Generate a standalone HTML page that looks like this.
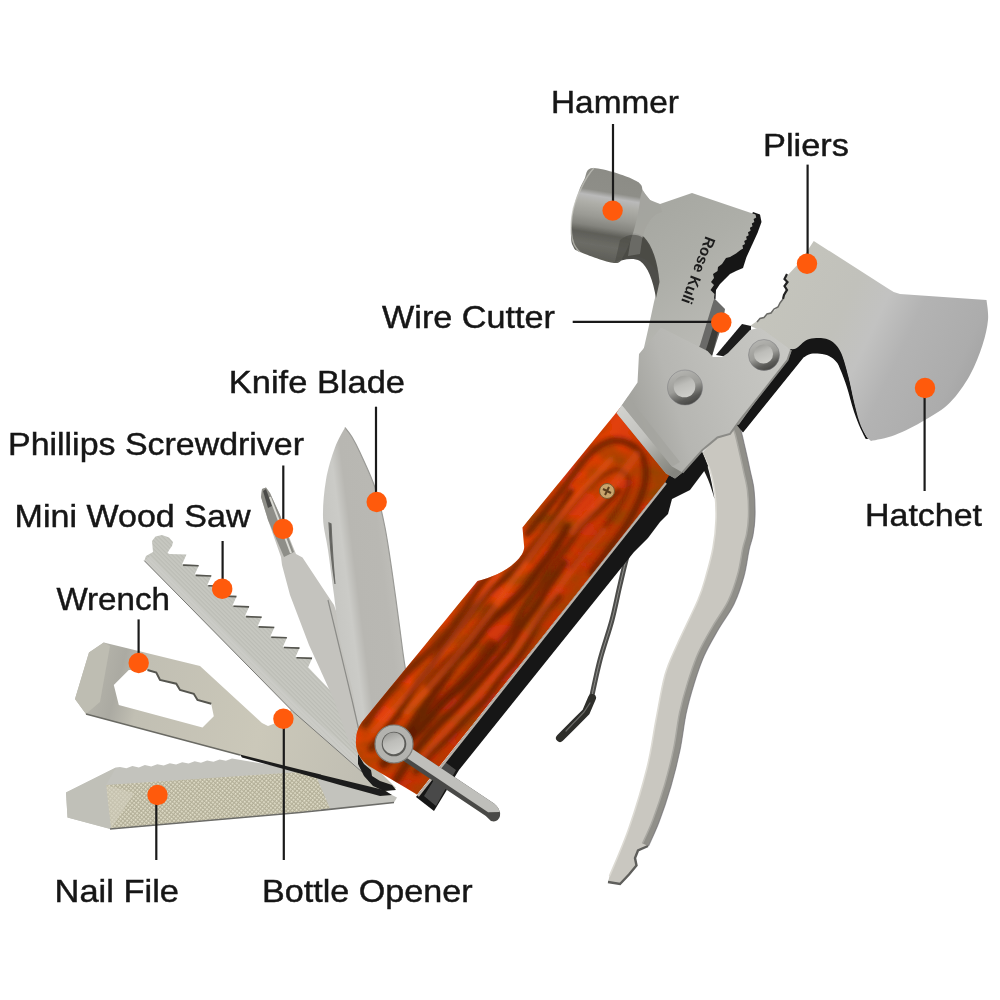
<!DOCTYPE html>
<html><head><meta charset="utf-8"><title>Multi-tool</title>
<style>html,body{margin:0;padding:0;background:#fff}svg{display:block}</style></head>
<body><svg width="1000" height="1000" viewBox="0 0 1000 1000">
<rect width="1000" height="1000" fill="#ffffff"/>

<defs>
<linearGradient id="gHead" gradientUnits="userSpaceOnUse" x1="600" y1="170" x2="585" y2="262">
 <stop offset="0" stop-color="#8c8c86"/><stop offset="0.22" stop-color="#8e8e88"/><stop offset="0.28" stop-color="#bababa"/><stop offset="0.36" stop-color="#aeaea8"/><stop offset="0.5" stop-color="#9a9a94"/><stop offset="0.6" stop-color="#84847e"/><stop offset="0.68" stop-color="#5e5e58"/><stop offset="0.8" stop-color="#6c6c66"/><stop offset="1" stop-color="#595953"/>
</linearGradient>
<linearGradient id="gBody" gradientUnits="userSpaceOnUse" x1="650" y1="200" x2="740" y2="320">
 <stop offset="0" stop-color="#a6a7a1"/><stop offset="0.45" stop-color="#adaea8"/><stop offset="1" stop-color="#babab5"/>
</linearGradient>
<linearGradient id="gHatchet" gradientUnits="userSpaceOnUse" x1="780" y1="280" x2="990" y2="380">
 <stop offset="0" stop-color="#c4c4bc"/><stop offset="0.3" stop-color="#c1c1bb"/><stop offset="0.45" stop-color="#c2c2c1"/><stop offset="0.6" stop-color="#b3b3b3"/><stop offset="0.85" stop-color="#acacac"/><stop offset="1" stop-color="#a0a0a0"/>
</linearGradient>
<linearGradient id="gPlate" gradientUnits="userSpaceOnUse" x1="630" y1="400" x2="790" y2="350">
 <stop offset="0" stop-color="#a3a39e"/><stop offset="0.25" stop-color="#b6b6b2"/><stop offset="0.6" stop-color="#c0c0bc"/><stop offset="1" stop-color="#c8c8c4"/>
</linearGradient>
<linearGradient id="gPlier" gradientUnits="userSpaceOnUse" x1="700" y1="500" x2="760" y2="510">
 <stop offset="0" stop-color="#b2b1ac"/><stop offset="0.15" stop-color="#cdcbc4"/><stop offset="0.7" stop-color="#c8c6bf"/><stop offset="1" stop-color="#94938d"/>
</linearGradient>
<linearGradient id="gKnife" gradientUnits="userSpaceOnUse" x1="320" y1="560" x2="400" y2="550">
 <stop offset="0" stop-color="#c4c4c0"/><stop offset="0.3" stop-color="#cbcbc7"/><stop offset="0.42" stop-color="#b8b7b2"/><stop offset="0.75" stop-color="#b9b8b3"/><stop offset="1" stop-color="#c2c1bc"/>
</linearGradient>
<linearGradient id="gWood" gradientUnits="userSpaceOnUse" x1="470" y1="560" x2="560" y2="632">
 <stop offset="0" stop-color="#cc350e"/><stop offset="0.25" stop-color="#e2400c"/><stop offset="0.55" stop-color="#d4380b"/><stop offset="0.8" stop-color="#c2300a"/><stop offset="1" stop-color="#ca360e"/>
</linearGradient>
<radialGradient id="gRivet" cx="0.45" cy="0.4" r="0.6">
 <stop offset="0" stop-color="#cfcfcb"/><stop offset="0.55" stop-color="#b4b4b0"/><stop offset="0.8" stop-color="#8a8a86"/><stop offset="1" stop-color="#5a5a57"/>
</radialGradient>
<linearGradient id="gWrench" gradientUnits="userSpaceOnUse" x1="80" y1="680" x2="380" y2="760">
 <stop offset="0" stop-color="#b9b8ae"/><stop offset="0.12" stop-color="#abaaa2"/><stop offset="0.2" stop-color="#c1bfb3"/><stop offset="0.6" stop-color="#cbc8b9"/><stop offset="1" stop-color="#bfbdb2"/>
</linearGradient>
<linearGradient id="gBevel" gradientUnits="userSpaceOnUse" x1="618" y1="410" x2="672" y2="474">
 <stop offset="0" stop-color="#d2d2ce"/><stop offset="0.45" stop-color="#c2c2be"/><stop offset="0.8" stop-color="#96968f"/><stop offset="1" stop-color="#85857f"/>
</linearGradient>
<linearGradient id="gRivO" x1="0.3" y1="0" x2="0.7" y2="1"><stop offset="0" stop-color="#b6b6b2"/><stop offset="0.5" stop-color="#9c9c98"/><stop offset="0.8" stop-color="#5a5a57"/><stop offset="1" stop-color="#434341"/></linearGradient>
<linearGradient id="gRivI" x1="0.3" y1="0" x2="0.7" y2="1"><stop offset="0" stop-color="#9c9c98"/><stop offset="0.4" stop-color="#bdbdb9"/><stop offset="1" stop-color="#cfcfcb"/></linearGradient>
<pattern id="pSaw" width="3" height="3" patternUnits="userSpaceOnUse" patternTransform="rotate(45)">
 <rect width="3" height="3" fill="#c7c8c1"/><rect width="3" height="1.2" fill="#bbbcb5"/>
</pattern>
<pattern id="pFile" width="3" height="3" patternUnits="userSpaceOnUse" patternTransform="rotate(40)">
 <rect width="3" height="3" fill="#b3af98"/><rect width="1.7" height="1.7" fill="#e6e3ce"/>
</pattern>
<filter id="gblur" x="-10%" y="-10%" width="120%" height="120%"><feGaussianBlur stdDeviation="2.2"/></filter>
<filter id="soft" x="-5%" y="-5%" width="110%" height="110%"><feGaussianBlur stdDeviation="0.6"/></filter>
<filter id="grain" x="0" y="0" width="100%" height="100%">
 <feTurbulence type="fractalNoise" baseFrequency="0.025 0.035" numOctaves="3" seed="11" result="n"/>
 <feColorMatrix in="n" type="matrix" values="0 0 0 0 0.3  0 0 0 0 0.06  0 0 0 0 0.0  2.2 0 0 0 -0.8" result="dark"/>
 <feComposite in="dark" in2="SourceGraphic" operator="in" result="d2"/>
 <feMerge><feMergeNode in="SourceGraphic"/><feMergeNode in="d2"/></feMerge>
</filter>
</defs>

<g filter="url(#soft)">
<path d="M649.0,516.0 C647.5,518.0 643.3,522.3 640.0,528.0 C636.7,533.7 632.3,540.5 629.0,550.0 C625.7,559.5 622.8,573.3 620.0,585.0 C617.2,596.7 615.3,607.5 612.0,620.0 C608.7,632.5 603.5,646.7 600.0,660.0 C596.5,673.3 592.5,693.3 591.0,700.0" fill="none" stroke="#4c4c4a" stroke-width="5"/>
<path d="M649.0,516.0 C647.5,518.0 643.3,522.3 640.0,528.0 C636.7,533.7 632.3,540.5 629.0,550.0 C625.7,559.5 622.8,573.3 620.0,585.0 C617.2,596.7 615.3,607.5 612.0,620.0 C608.7,632.5 603.5,646.7 600.0,660.0 C596.5,673.3 592.5,693.3 591.0,700.0" fill="none" stroke="#8e8e8a" stroke-width="1"/>
<path d="M592,698 L586,712 L560,738" fill="none" stroke="#2e2e2c" stroke-width="8" stroke-linecap="round" stroke-linejoin="round"/>
<path d="M590,703 L584,712 L566,731" fill="none" stroke="#6a6a66" stroke-width="1.2" stroke-linecap="round"/>
<path d="M737.5,423.5 C738.1,424.8 739.8,427.0 741.0,431.0 C742.2,435.0 743.5,441.0 745.0,447.5 C746.5,454.0 748.5,462.9 750.0,470.0 C751.5,477.1 753.2,482.3 754.0,490.0 C754.8,497.7 755.2,508.5 755.0,516.0 C754.8,523.5 754.0,529.3 753.0,535.0 C752.0,540.7 750.5,543.2 749.0,550.0 C747.5,556.8 746.5,567.0 744.0,576.0 C741.5,585.0 738.3,595.0 734.0,604.0 C729.7,613.0 723.0,621.3 718.0,630.0 C713.0,638.7 708.0,647.0 704.0,656.0 C700.0,665.0 697.0,674.3 694.0,684.0 C691.0,693.7 688.3,703.0 686.0,714.0 C683.7,725.0 682.5,738.0 680.0,750.0 C677.5,762.0 674.5,774.0 671.0,786.0 C667.5,798.0 662.8,812.0 659.0,822.0 C655.2,832.0 650.2,842.0 648.5,846.0 L638,850.5 L635,858 L636.5,865.5 L629,874.5 L620,884 L608,882 L609.5,876.0 C612.8,868.0 622.8,846.0 629.0,828.0 C635.2,810.0 642.5,786.0 647.0,768.0 C651.5,750.0 653.0,735.5 656.0,720.0 C659.0,704.5 661.5,687.5 665.0,675.0 C668.5,662.5 671.5,657.5 677.0,645.0 C682.5,632.5 693.2,611.5 698.0,600.0 C702.8,588.5 703.5,584.7 706.0,576.0 C708.5,567.3 711.3,557.3 713.0,548.0 C714.7,538.7 715.7,529.0 716.0,520.0 C716.3,511.0 716.0,502.3 715.0,494.0 C714.0,485.7 712.2,476.8 710.0,470.0 C707.8,463.2 703.3,455.8 702.0,453.0 L714,440 L728,433 Z" fill="#c9c7c0"/>
<path d="M737.5,423.5 C738.1,424.8 739.8,427.0 741.0,431.0 C742.2,435.0 743.5,441.0 745.0,447.5 C746.5,454.0 748.5,462.9 750.0,470.0 C751.5,477.1 753.2,482.3 754.0,490.0 C754.8,497.7 755.2,508.5 755.0,516.0 C754.8,523.5 754.0,529.3 753.0,535.0 C752.0,540.7 750.5,543.2 749.0,550.0 C747.5,556.8 746.5,567.0 744.0,576.0 C741.5,585.0 738.3,595.0 734.0,604.0 C729.7,613.0 723.0,621.3 718.0,630.0 C713.0,638.7 708.0,647.0 704.0,656.0 C700.0,665.0 697.0,674.3 694.0,684.0 C691.0,693.7 688.3,703.0 686.0,714.0 C683.7,725.0 682.5,738.0 680.0,750.0 C677.5,762.0 674.5,774.0 671.0,786.0 C667.5,798.0 662.8,812.0 659.0,822.0 C655.2,832.0 650.2,842.0 648.5,846.0 L642.5,843.4 C644.3,839.4 649.2,829.6 652.9,819.7 C656.6,809.8 661.3,796.0 664.8,784.2 C668.2,772.3 671.2,760.6 673.6,748.7 C676.1,736.8 677.3,723.8 679.6,712.7 C682.0,701.6 684.7,692.0 687.8,682.1 C690.9,672.2 694.0,662.6 698.1,653.4 C702.2,644.1 707.4,635.4 712.4,626.8 C717.4,618.1 723.9,609.9 728.1,601.2 C732.4,592.4 735.3,583.0 737.7,574.3 C740.2,565.5 741.2,555.3 742.7,548.6 C744.1,541.9 745.6,539.3 746.6,533.9 C747.6,528.4 748.3,523.1 748.5,515.9 C748.7,508.7 748.3,498.1 747.5,490.7 C746.7,483.3 745.1,478.3 743.6,471.3 C742.2,464.4 740.1,455.4 738.7,449.0 C737.2,442.6 736.0,436.7 734.8,432.9 C733.6,429.2 732.1,427.4 731.6,426.2Z" fill="#908f89"/>
<path d="M731.6,426.2 C732.1,427.4 733.6,429.2 734.8,432.9 C736.0,436.7 737.2,442.6 738.7,449.0 C740.1,455.4 742.2,464.4 743.6,471.3 C745.1,478.3 746.7,483.3 747.5,490.7 C748.3,498.1 748.7,508.7 748.5,515.9 C748.3,523.1 747.6,528.4 746.6,533.9 C745.6,539.3 744.1,541.9 742.7,548.6 C741.2,555.3 740.2,565.5 737.7,574.3 C735.3,583.0 732.4,592.4 728.1,601.2 C723.9,609.9 717.4,618.1 712.4,626.8 C707.4,635.4 702.2,644.1 698.1,653.4 C694.0,662.6 690.9,672.2 687.8,682.1 C684.7,692.0 682.0,701.6 679.6,712.7 C677.3,723.8 676.1,736.8 673.6,748.7 C671.2,760.6 668.2,772.3 664.8,784.2 C661.3,796.0 656.6,809.8 652.9,819.7 C649.2,829.6 644.3,839.4 642.5,843.4" fill="none" stroke="#a9a8a2" stroke-width="1.5"/>
<path d="M737.5,423.5 C738.1,424.8 739.8,427.0 741.0,431.0 C742.2,435.0 743.5,441.0 745.0,447.5 C746.5,454.0 748.5,462.9 750.0,470.0 C751.5,477.1 753.2,482.3 754.0,490.0 C754.8,497.7 755.2,508.5 755.0,516.0 C754.8,523.5 754.0,529.3 753.0,535.0 C752.0,540.7 750.5,543.2 749.0,550.0 C747.5,556.8 746.5,567.0 744.0,576.0 C741.5,585.0 738.3,595.0 734.0,604.0 C729.7,613.0 723.0,621.3 718.0,630.0 C713.0,638.7 708.0,647.0 704.0,656.0 C700.0,665.0 697.0,674.3 694.0,684.0 C691.0,693.7 688.3,703.0 686.0,714.0 C683.7,725.0 682.5,738.0 680.0,750.0 C677.5,762.0 674.5,774.0 671.0,786.0 C667.5,798.0 662.8,812.0 659.0,822.0 C655.2,832.0 650.2,842.0 648.5,846.0" fill="none" stroke="#77767a" stroke-width="1.2" opacity="0.7"/>
<path d="M609.5,876.0 C612.8,868.0 622.8,846.0 629.0,828.0 C635.2,810.0 642.5,786.0 647.0,768.0 C651.5,750.0 653.0,735.5 656.0,720.0 C659.0,704.5 661.5,687.5 665.0,675.0 C668.5,662.5 671.5,657.5 677.0,645.0 C682.5,632.5 693.2,611.5 698.0,600.0 C702.8,588.5 703.5,584.7 706.0,576.0 C708.5,567.3 711.3,557.3 713.0,548.0 C714.7,538.7 715.7,529.0 716.0,520.0 C716.3,511.0 716.0,502.3 715.0,494.0 C714.0,485.7 712.2,476.8 710.0,470.0 C707.8,463.2 703.3,455.8 702.0,453.0" fill="none" stroke="#dddbd4" stroke-width="1.6"/>
<path d="M696,455 L702,452 C707,462 711,476 714.5,499 C711,486 706,472 699,463 Z" fill="#1c1c1a"/>
<path d="M648,846 L638,850.5 L635,858 L636.5,865.5 L629,874.5 L620,884 L608,882" fill="none" stroke="#5e5e5b" stroke-width="2.4"/>
<path d="M753,212 L760,214.5 L761.5,222 L757.5,233 L752,245 L746.5,257 L743,268 L736,271 L730,274 L725,279 L720,284 L716,290 L715.5,299 L705,300 L712,270 L740,240 Z" fill="#171717"/>
<path d="M714,298 L725,309 L723,322 L712,356 L694,356 L706,318 Z" fill="#6b6b68"/>
<path d="M722,316 L712,356 L704,356 L716,318 Z" fill="#3a3a38"/>
<path d="M638.0,182.0 L642.0,190.0 L650.0,200.0 L660.0,204.0 L692.0,193.0 L755.5,214.5 L756.2,217.4 L753.6,218.9 L754.3,221.9 L751.8,223.4 L752.5,226.3 L749.9,227.8 L750.6,230.7 L748.0,232.2 L748.7,235.2 L746.1,236.7 L746.8,239.6 L744.2,241.1 L745.0,244.0 L742.4,245.6 L743.1,248.5 L740.5,250.0 L736.0,253.5 L730.0,257.0 L726.0,258.0 L724.0,261.0 L722.0,264.0 L718.0,267.0 L717.5,271.0 L713.0,274.0 L714.0,278.0 L711.0,282.0 L714.0,285.0 L710.5,290.0 L714.5,294.0 L714.0,299.0 L700.0,345.0 L690.0,365.0 L640.0,365.0 L648.0,330.0 L654.0,302.0 L659.0,282.0 L657.0,268.0 L650.0,258.0 L644.0,254.0 L630.0,255.0 L620.0,258.0 L614.0,263.0Z" fill="url(#gBody)"/>
<path d="M618,238 C626,232 636,231 644,237 C652,245 658,262 659.5,282 L656,298 C653,280 648,267 640,261 C632,257 622,260 614,263 Z" fill="#4e4e48"/>
<path d="M638,182 C641,186 643,192 650,200 C654,203 657,204 660,204 L662,212 C652,214 645,225 642,240 L640,254 L628,256 C632,235 634,210 632,190Z" fill="#a4a49e" opacity="0.9"/>
<path d="M594.0,168.0 C603.0,168.3 630.3,176.7 638.0,182.0 C645.7,187.3 640.7,192.0 640.0,200.0 C639.3,208.0 636.7,220.8 634.0,230.0 C631.3,239.2 627.3,249.5 624.0,255.0 C620.7,260.5 621.3,263.5 614.0,263.0 C606.7,262.5 586.8,254.8 580.0,252.0 C573.2,249.2 574.5,248.7 573.0,246.0 C571.5,243.3 571.2,241.0 571.0,236.0 C570.8,231.0 571.0,222.7 572.0,216.0 C573.0,209.3 575.0,202.0 577.0,196.0 C579.0,190.0 581.2,184.7 584.0,180.0 C586.8,175.3 585.0,167.7 594.0,168.0Z" fill="url(#gHead)"/>
<path d="M594,168 C586,176 574,200 572,216 C570,232 572,246 580,252" fill="none" stroke="#c4c4be" stroke-width="1.5" opacity="0.7"/>
<path d="M620,240 C628,234 636,233 643,238 C650,245 655,258 657,272 C652,264 646,259 640,257 C632,255 622,259 615,262 Z" fill="#4a4a44" opacity="0.6"/>
<text transform="translate(705.8,235.5) rotate(110.6)" font-family="Liberation Sans, sans-serif" font-weight="700" font-size="15.5" textLength="70.5" lengthAdjust="spacingAndGlyphs" fill="#1b1b1b">Rose Kuli</text>
<path d="M789.0,347.0 C790.2,346.9 793.3,347.8 796.0,346.5 C798.7,345.2 802.0,340.7 805.0,339.0 C808.0,337.3 810.5,336.7 814.0,336.3 C817.5,335.9 822.5,335.8 826.0,336.8 C829.5,337.7 832.4,339.4 835.0,342.0 C837.6,344.6 839.5,347.0 841.8,352.5 C844.0,358.0 846.4,366.8 848.5,375.0 C850.6,383.2 852.5,394.0 854.5,402.0 C856.5,410.0 858.5,417.2 860.5,423.0 C862.5,428.8 864.8,433.9 866.5,436.5 C868.2,439.1 870.2,438.2 871.0,438.5 L865.8,439.0 C864.6,436.7 861.1,430.1 859.0,425.0 C856.9,419.9 855.0,414.8 853.0,408.5 C851.0,402.2 849.0,393.8 847.0,387.5 C845.0,381.2 842.8,375.2 841.0,371.0 C839.2,366.8 838.5,364.5 836.5,362.0 C834.5,359.5 831.8,357.4 829.0,356.0 C826.2,354.6 823.0,354.1 820.0,353.8 C817.0,353.4 813.8,353.1 811.0,353.8 C808.2,354.4 804.8,356.9 803.5,357.5 L743,432.5 L736,424 Z" fill="#131313"/>
<path d="M790.5,352 L738,424.5" stroke="#9a9a96" stroke-width="1.6" fill="none"/>
<path d="M813.75,241 L888,288.5 Q893,292.5 900,294 L986.5,300 L986.5,300.0 C986.8,303.3 988.7,312.5 988.0,320.0 C987.3,327.5 985.5,335.8 982.5,345.0 C979.5,354.2 975.4,365.4 970.0,375.0 C964.6,384.6 957.5,395.0 950.0,402.5 C942.5,410.0 934.2,414.6 925.0,420.0 C915.8,425.4 904.0,431.5 895.0,435.0 C886.0,438.5 875.0,440.0 871.0,441.0 L867.5,438 L867.5,438.0 C866.3,435.8 862.7,430.7 860.5,425.0 C858.3,419.3 856.5,412.0 854.5,404.0 C852.5,396.0 850.6,385.2 848.5,377.0 C846.4,368.8 844.0,360.0 841.8,354.5 C839.5,349.0 837.6,346.6 835.0,344.0 C832.4,341.4 829.5,339.7 826.0,338.8 C822.5,337.8 817.5,337.9 814.0,338.3 C810.5,338.7 808.0,339.3 805.0,341.0 C802.0,342.7 798.7,347.2 796.0,348.5 C793.3,349.8 790.2,348.9 789.0,349.0 L770,345 L760,330 L750,326 L755,322.5 L765,316 L775,310 L782.5,300 L785,290 L786,277 L800,262 Z" fill="url(#gHatchet)"/>
<path d="M787,274 L784.5,279 L787.5,282 L784.5,286 L787,290 L784,295 L783,299" fill="none" stroke="#222" stroke-width="2.2"/>
<path d="M783,299 L780,303 L778,307 L774,309 L771,313 L767,314 L764,317.5 L760,318.5 L757,322" fill="none" stroke="#6a6a66" stroke-width="1.5"/>
<path d="M716,355 L742,324 L751,326 L751,331 L728,357 Z" fill="#1a1a1a"/>
<path d="M664,474 L702,452 L708,466 L690,490 L672,499 L668,514 L660,522 L648,538 L634,552 L459,770 L434,811 L416,797 L662,486 Z" fill="#161616"/>
<path d="M436,806 L456,770 L445,762 L424,796Z" fill="#4a4a48"/>
<path d="M66.0,792.5 L116.0,767.5 L120.0,767.0 L126.4,768.3 L132.4,766.1 L138.8,767.4 L144.9,765.1 L151.2,766.4 L157.3,764.2 L163.7,765.5 L169.8,763.2 L176.1,764.5 L182.2,762.3 L188.6,763.6 L194.7,761.3 L201.0,762.7 L207.1,760.4 L213.5,761.7 L219.6,759.4 L225.9,760.8 L232.0,758.5 L300.0,770.0 L380.0,789.0 L397.0,797.5 L394.0,802.5 L300.0,812.5 L110.0,829.0 L67.5,817.5Z" fill="#c3c3bd"/>
<path d="M106,785 L300,772 L316,776 L330,808.5 L300,812.5 L111,829 Z" fill="url(#pFile)"/>
<path d="M106,785 L134,793 L111,829 Z" fill="#d2cfbe" opacity="0.6"/>
<path d="M66,792.5 L116,767.5 L106,785 L111,829 L67.5,817.5Z" fill="#c0c0b8"/>
<path d="M110,829 L300,812.5 L394,802.5" fill="none" stroke="#6c6c68" stroke-width="1.5"/>
<path d="M103.8,642.5 L200.0,666.0 L262.0,723.0 L268.0,726.0 L276.0,723.0 L292.0,709.0 L372.0,764.0 L396.0,788.0 L384.0,792.5 L300.0,771.0 L86.0,714.0 L75.0,699.0 L89.0,652.5Z M128.8,670.0 L113.8,685.0 L118.8,705.0 L202.5,727.5 L213.8,716.2 L211.2,703.8 L197.5,700.0 L193.8,693.8 L180.0,690.0 L176.2,683.8 L160.0,680.0 L156.2,672.5 L147.5,670.0Z" fill-rule="evenodd" fill="url(#gWrench)"/>
<path d="M103.75,642.5 L110,646 L100,702 L86,714 L75,699 L89,652.5Z" fill="#bebdb2"/>
<path d="M86,714 L240,755" fill="none" stroke="#6a6a64" stroke-width="1.6"/>
<path d="M240,754.5 L300,769.5 L384,790 L392,795 L380,796 L340,785 L300,773.5 L242,757.5Z" fill="#1e1e1c"/>
<path d="M147.5,670 L156.25,672.5 L160,680 L176.25,683.75 L180,690 L193.75,693.75 L197.5,700 L211.25,703.75 " fill="none" stroke="#55554f" stroke-width="2"/>
<path d="M152.0,541.0 L155.5,536.5 L162.0,535.0 L169.0,537.5 L173.0,542.0 L172.0,546.0 L169.5,549.5 L167.5,553.0 L169.5,554.0 L186.5,554.6 L182.1,564.3 L199.1,564.9 L194.7,574.6 L211.7,575.2 L207.3,584.9 L224.3,585.5 L219.9,595.2 L236.9,595.8 L232.5,605.5 L249.5,606.1 L245.1,615.8 L262.1,616.4 L257.7,626.1 L274.7,626.7 L270.3,636.4 L287.3,637.0 L282.9,646.7 L299.9,647.3 L295.5,657.0 L312.5,657.6 L308.1,667.3 L330.0,690.0 L372.0,712.0 L365.0,775.0 L292.8,711.4 L144.3,560.7 L146.0,556.0 L153.0,552.0Z" fill="url(#pSaw)"/>
<path d="M144.3,560.7 L292.8,711.4 L365,775 L368,766 L296,703 L150,556Z" fill="#d0d0cc" opacity="0.55"/>
<path d="M183.1,565.1 L198.6,565.7" stroke="#55554f" stroke-width="1.6" fill="none"/>
<path d="M195.7,575.4 L211.2,576.0" stroke="#55554f" stroke-width="1.6" fill="none"/>
<path d="M208.3,585.7 L223.8,586.3" stroke="#55554f" stroke-width="1.6" fill="none"/>
<path d="M220.9,596.0 L236.4,596.6" stroke="#55554f" stroke-width="1.6" fill="none"/>
<path d="M233.5,606.3 L249.0,606.9" stroke="#55554f" stroke-width="1.6" fill="none"/>
<path d="M246.1,616.6 L261.6,617.2" stroke="#55554f" stroke-width="1.6" fill="none"/>
<path d="M258.7,626.9 L274.2,627.5" stroke="#55554f" stroke-width="1.6" fill="none"/>
<path d="M271.3,637.2 L286.8,637.8" stroke="#55554f" stroke-width="1.6" fill="none"/>
<path d="M283.9,647.5 L299.4,648.1" stroke="#55554f" stroke-width="1.6" fill="none"/>
<path d="M296.5,657.8 L312.0,658.4" stroke="#55554f" stroke-width="1.6" fill="none"/>
<path d="M262,489 L266,487.5 L270,493 L280,515 L296,554 L302.5,557.5 L334,605 L346,640 L366,700 L350,745 L334,700 L309,645 L290,595 L282,565 L281,557 L268,520 L261,497 Z" fill="#c4c3be"/>
<path d="M262,489 L266,487.5 L270,493 L280,515 L294,552 L284,557 L268,520 L261,497 Z" fill="#8e8e88"/>
<path d="M263,491 L268,508 L272,506 L266,489Z" fill="#4c4c48"/>
<path d="M270,497 L291,553" stroke="#dcdcd6" stroke-width="2" fill="none"/>
<path d="M345.0,427.5 C346.2,429.1 349.5,432.8 352.0,437.0 C354.5,441.2 356.2,444.1 360.0,452.5 C363.8,460.9 370.8,475.0 375.0,487.5 C379.2,500.0 382.1,512.9 385.0,527.5 C387.9,542.1 390.0,557.9 392.5,575.0 C395.0,592.1 398.1,615.8 400.0,630.0 C401.9,644.2 402.0,646.7 404.0,660.0 C406.0,673.3 410.7,701.7 412.0,710.0 L400,760 L370.0,760.0 C368.0,754.0 361.0,736.0 358.0,724.0 C355.0,712.0 355.0,702.0 352.0,688.0 C349.0,674.0 343.0,655.5 340.0,640.0 C337.0,624.5 336.0,610.0 334.0,595.0 C332.0,580.0 329.8,562.9 328.0,550.0 C326.2,537.1 323.3,529.2 323.0,517.5 C322.7,505.8 324.0,491.7 326.0,480.0 C328.0,468.3 331.8,456.2 335.0,447.5 C338.2,438.8 343.3,430.8 345.0,427.5Z" fill="url(#gKnife)"/>
<path d="M329,523 C330,545 332,565 335,584 C333,565 332,545 331,524Z" fill="#5c5c58" stroke="#6a6a66" stroke-width="1.2"/>
<path d="M345.0,427.5 C346.2,429.1 349.5,432.8 352.0,437.0 C354.5,441.2 356.2,444.1 360.0,452.5 C363.8,460.9 370.8,475.0 375.0,487.5 C379.2,500.0 382.1,512.9 385.0,527.5 C387.9,542.1 390.0,557.9 392.5,575.0 C395.0,592.1 398.1,615.8 400.0,630.0 C401.9,644.2 402.0,646.7 404.0,660.0 C406.0,673.3 410.7,701.7 412.0,710.0" fill="none" stroke="#9a9a96" stroke-width="1.2"/>
<path d="M144.3,560.7 L292.8,711.4 L362,772" fill="none" stroke="#7a7a76" stroke-width="1"/>
<path d="M328,600 L340,650 L352,700 L360,735" fill="none" stroke="#8c8c88" stroke-width="1.2"/>
<path d="M358,754 L364,764 L371,770 L372,776 L380,781 L392,785 L396,790 L384,791 L373,786 L364,776 L358,764Z" fill="#1c1c1a"/>
<clipPath id="cWood"><path d="M620,408 L672,470 L665,482.5 L417,794.5 L369,766 C360,760 355,750 356,740 C356,733 358,728 362,722 L477.5,581 C490,578 505,572 515,562.5 C522,556 525,550 524,545 L522.5,527.5 Z"/></clipPath>
<path d="M620,408 L672,470 L665,482.5 L417,794.5 L369,766 C360,760 355,750 356,740 C356,733 358,728 362,722 L477.5,581 C490,578 505,572 515,562.5 C522,556 525,550 524,545 L522.5,527.5 Z" fill="url(#gWood)" filter="url(#grain)"/>
<g clip-path="url(#cWood)"><g filter="url(#gblur)" fill="none" stroke-linecap="round"><path d="M527.4,533.7 C532.6,527.2 548.6,507.3 558.5,494.5 C568.4,481.8 578.7,465.9 586.9,457.1 C595.2,448.3 600.9,444.1 608.0,441.9 C615.1,439.7 623.6,440.9 629.5,443.7 C635.4,446.5 640.9,451.4 643.3,458.5 C645.8,465.5 647.0,475.3 644.4,486.1 C641.7,497.0 636.1,509.4 627.3,523.7 C618.5,537.9 597.5,563.8 591.6,571.9" stroke="#5e1c06" stroke-width="6.5" opacity="0.75"/><path d="M529.1,560.5 C535.3,552.7 555.7,526.4 566.4,513.6 C577.0,500.7 585.2,490.6 592.8,483.5 C600.4,476.3 606.7,472.4 612.0,470.6 C617.2,468.8 621.5,470.1 624.3,472.8 C627.1,475.4 630.9,479.0 628.7,486.5 C626.6,494.0 621.3,503.9 611.7,517.6 C602.1,531.3 578.0,560.0 571.2,568.5" stroke="#6a2208" stroke-width="5" opacity="0.6"/><path d="M571.0,491.7 C568.8,495.2 562.1,505.9 557.6,513.0 C553.0,520.0 548.7,527.2 543.8,533.9 C538.8,540.6 533.3,546.9 527.9,553.3 C522.6,559.7 517.7,566.4 511.8,572.3 C505.8,578.3 498.2,582.9 492.2,588.7 C486.2,594.6 481.1,601.2 475.8,607.6 C470.4,614.0 465.5,620.7 460.2,627.1 C454.9,633.6 449.0,639.5 444.0,646.2 C439.0,652.9 435.2,660.5 430.4,667.3 C425.5,674.1 419.7,680.1 414.9,687.0 C410.2,693.9 406.7,701.8 402.1,708.7 C397.4,715.6 392.0,722.0 386.9,728.6 C381.8,735.2 374.2,745.1 371.7,748.4" stroke="#561805" stroke-width="7" opacity="0.70"/><path d="M567.8,527.5 C565.6,531.0 559.1,541.8 554.4,548.7 C549.6,555.6 544.4,562.1 539.5,568.8 C534.5,575.5 530.1,582.6 524.7,589.0 C519.2,595.3 513.1,601.1 507.0,606.9 C500.9,612.7 493.8,617.6 488.0,623.7 C482.3,629.8 478.0,637.1 472.6,643.4 C467.1,649.7 460.3,655.0 455.2,661.5 C450.1,668.1 446.5,675.9 441.8,682.8 C437.1,689.7 431.8,696.1 427.0,703.0 C422.2,709.8 417.5,716.7 413.1,723.9 C408.7,731.0 405.7,739.3 400.8,746.0 C395.9,752.7 386.5,761.2 383.6,764.3" stroke="#561805" stroke-width="9" opacity="0.75"/><path d="M618.2,490.9 C615.3,493.9 606.4,502.8 600.4,508.7 C594.4,514.5 587.4,519.6 582.0,525.9 C576.5,532.2 572.6,539.8 567.6,546.5 C562.6,553.1 556.8,559.2 552.0,566.0 C547.1,572.8 543.2,580.3 538.6,587.2 C533.9,594.2 528.4,600.5 523.9,607.5 C519.3,614.5 516.1,622.6 511.4,629.5 C506.6,636.4 500.7,642.3 495.3,648.7 C490.0,655.1 484.9,661.7 479.3,667.9 C473.6,674.0 467.7,679.9 461.6,685.8 C455.5,691.6 448.6,696.7 442.8,702.7 C436.9,708.7 431.7,715.2 426.3,721.6 C420.9,727.9 413.1,737.7 410.5,740.9" stroke="#561805" stroke-width="6" opacity="0.65"/><path d="M564.0,562.7 C561.6,566.2 554.4,576.4 549.8,583.4 C545.3,590.5 541.5,598.1 536.8,605.0 C532.1,611.9 526.4,618.1 521.8,625.0 C517.2,632.0 514.0,640.1 509.2,646.9 C504.4,653.8 498.5,659.7 493.0,666.0 C487.5,672.3 481.8,678.4 476.3,684.6 C470.8,690.9 465.8,697.6 460.0,703.6 C454.3,709.7 447.6,715.1 441.7,721.1 C435.9,727.0 430.0,733.1 424.7,739.4 C419.4,745.8 414.5,752.6 409.7,759.5 C404.9,766.3 398.3,777.0 396.0,780.5" stroke="#561805" stroke-width="8" opacity="0.70"/><path d="M558.6,596.8 C555.9,599.9 546.8,608.7 542.1,615.6 C537.4,622.5 534.5,630.8 530.3,638.1 C526.0,645.4 521.8,652.7 516.8,659.3 C511.7,666.0 505.3,671.5 500.2,678.1 C495.1,684.7 491.4,692.4 486.1,698.8 C480.7,705.2 473.9,710.4 468.0,716.4 C462.2,722.4 456.9,728.8 450.9,734.8 C445.0,740.7 438.2,745.9 432.4,751.9 C426.6,758.0 419.0,767.9 416.3,771.1" stroke="#561805" stroke-width="7" opacity="0.65"/><path d="M492.9,570.1 C490.3,573.4 482.2,582.9 477.4,589.8 C472.6,596.6 469.0,604.3 464.2,611.2 C459.4,618.0 454.2,624.5 448.8,630.8 C443.4,637.2 437.8,643.4 431.8,649.3 C425.8,655.2 418.9,660.3 412.8,666.2 C406.8,672.0 401.1,678.1 395.6,684.4 C390.0,690.6 384.7,697.1 379.7,703.7 C374.6,710.3 367.7,720.8 365.3,724.2" stroke="#561805" stroke-width="8" opacity="0.65"/><path d="M492.0,607.7 C489.7,611.2 482.9,621.8 478.1,628.6 C473.2,635.4 468.6,642.3 463.0,648.6 C457.4,654.8 450.2,659.6 444.6,665.8 C438.9,672.0 431.8,682.3 429.3,685.6" stroke="#561805" stroke-width="10" opacity="0.60"/><path d="M491.2,645.4 C488.7,648.8 481.6,659.1 476.5,665.7 C471.4,672.3 466.4,679.0 460.7,685.0 C454.9,691.1 447.7,696.0 441.9,702.0 C436.1,708.0 431.4,715.0 425.8,721.1 C420.1,727.3 411.1,736.1 408.1,739.0" stroke="#561805" stroke-width="12" opacity="0.55"/><path d="M610.8,459.4 C608.0,462.5 599.5,471.8 593.9,478.0 C588.4,484.2 582.7,490.4 577.2,496.6 C571.7,502.9 566.3,509.2 561.0,515.7 C555.7,522.1 550.5,528.6 545.5,535.3 C540.4,541.9 535.5,548.6 530.6,555.4 C525.7,562.1 521.0,569.0 516.2,575.9 C511.4,582.7 506.7,589.6 501.9,596.4 C497.1,603.3 492.3,610.1 487.4,616.8 C482.5,623.6 477.4,630.2 472.3,636.8 C467.2,643.3 461.9,649.8 456.5,656.2 C451.1,662.5 445.6,668.8 440.1,675.0 C434.6,681.3 428.9,687.4 423.3,693.6 C417.7,699.8 409.3,709.1 406.5,712.2" stroke="#ee5a16" stroke-width="6" opacity="0.5"/><path d="M603.5,530.3 C600.9,533.5 592.8,543.0 587.6,549.6 C582.4,556.1 577.3,562.7 572.3,569.4 C567.4,576.1 562.5,582.9 557.7,589.7 C552.9,596.5 548.2,603.4 543.4,610.3 C538.7,617.1 533.9,624.0 529.1,630.8 C524.2,637.6 519.4,644.4 514.3,651.0 C509.3,657.7 504.2,664.2 498.9,670.7 C493.7,677.2 488.3,683.6 482.9,689.9 C477.4,696.2 471.8,702.4 466.2,708.6 C460.6,714.8 455.0,720.9 449.4,727.1 C443.8,733.3 438.2,739.5 432.7,745.8 C427.3,752.1 419.3,761.7 416.6,764.9" stroke="#ee5a16" stroke-width="6" opacity="0.4"/><path d="M497.8,574.0 C495.4,577.4 488.2,587.6 483.4,594.5 C478.6,601.3 473.9,608.3 469.1,615.1 C464.3,621.9 459.5,628.8 454.6,635.5 C449.7,642.2 444.7,648.9 439.6,655.5 C434.4,662.0 429.2,668.5 423.8,674.9 C418.5,681.3 412.9,687.5 407.4,693.8 C401.9,700.0 396.2,706.2 390.6,712.4 C385.0,718.6 376.6,727.9 373.8,731.0" stroke="#ee5a16" stroke-width="6" opacity="0.35"/><path d="M636.7,454.5 C634.2,457.8 626.8,467.9 621.7,474.5 C616.5,481.0 611.3,487.5 605.9,493.9 C600.5,500.2 595.0,506.5 589.5,512.8 C583.9,519.0 575.5,528.3 572.7,531.4" stroke="#ee5a16" stroke-width="8" opacity="0.35"/></g></g>
<path d="M666,483 L418,796" stroke="#b9b2aa" stroke-width="2.2" fill="none"/>
<circle cx="607" cy="491" r="7.5" fill="#c8a46c"/><circle cx="607" cy="491" r="7.5" fill="none" stroke="#7a5a30" stroke-width="1"/>
<path d="M603,489 L611,493 M609,487 L605,495" stroke="#5a3d1c" stroke-width="2" fill="none"/>
<path d="M661.0,327.5 L707.5,351.0 L713.0,357.0 L722.0,357.0 L728.0,353.0 L750.0,330.0 L760.0,327.5 L791.0,350.0 L787.5,360.0 L760.0,395.0 L740.0,420.0 L730.0,434.0 L717.5,437.5 L702.5,450.0 L682.5,472.5 L675.0,478.5 L666.0,473.5 L616.5,413.0 L637.5,382.5 L639.0,354.0Z" fill="url(#gPlate)"/>
<path d="M616.5,413 L622,405 L672,466.5 L682.5,472.5 L675,478.5 L666,473.5Z" fill="url(#gBevel)"/>
<path d="M622,405 L628,396.5 L680,462 L672,466.5Z" fill="#a4a49f" opacity="0.75"/>
<path d="M791,350 L787.5,360 L760,395 L740,420 L730,434 L717.5,437.5 L702.5,450 L682.5,472.5" fill="none" stroke="#8b8b87" stroke-width="2"/>
<circle cx="685" cy="387.5" r="17.5" fill="url(#gRivO)"/>
<circle cx="684.5" cy="386.5" r="10.8" fill="url(#gRivI)"/>
<circle cx="685" cy="387.5" r="17.5" fill="none" stroke="#77777a" stroke-width="0.8" opacity="0.6"/>
<circle cx="764" cy="355" r="15.5" fill="url(#gRivO)"/>
<circle cx="763.5" cy="354" r="9.6" fill="url(#gRivI)"/>
<circle cx="764" cy="355" r="15.5" fill="none" stroke="#77777a" stroke-width="0.8" opacity="0.6"/>
<path d="M408,746 L494,803.5 Q501,809 500,816 Q498,823 491,821 L485.8,816 L399.8,758.5 Z" fill="#4a4a47"/>
<path d="M408,746 L494,803.5 Q499,807.5 499.5,812 L488.1,812.2 L402.1,754.7 Z" fill="#bfbfbb"/>
<circle cx="394" cy="744" r="19" fill="#b3b3af"/><circle cx="394" cy="744" r="19" fill="none" stroke="#7e7e7a" stroke-width="1.2"/>
<circle cx="394" cy="744" r="12.3" fill="#5c5c59"/><circle cx="393.6" cy="743.4" r="10.8" fill="url(#gRivI)"/>
</g>
<text x="551" y="113.4" font-family="Liberation Sans, sans-serif" font-size="32" textLength="127.9" lengthAdjust="spacingAndGlyphs" fill="#161616" stroke="#161616" stroke-width="0.45">Hammer</text>
<text x="763.0" y="156" font-family="Liberation Sans, sans-serif" font-size="32" textLength="85.9" lengthAdjust="spacingAndGlyphs" fill="#161616" stroke="#161616" stroke-width="0.45">Pliers</text>
<text x="382.1" y="328.4" font-family="Liberation Sans, sans-serif" font-size="32" textLength="172.9" lengthAdjust="spacingAndGlyphs" fill="#161616" stroke="#161616" stroke-width="0.45">Wire Cutter</text>
<text x="228.8" y="392.8" font-family="Liberation Sans, sans-serif" font-size="32" textLength="176.2" lengthAdjust="spacingAndGlyphs" fill="#161616" stroke="#161616" stroke-width="0.45">Knife Blade</text>
<text x="8.0" y="455" font-family="Liberation Sans, sans-serif" font-size="32" textLength="296.0" lengthAdjust="spacingAndGlyphs" fill="#161616" stroke="#161616" stroke-width="0.45">Phillips Screwdriver</text>
<text x="14.6" y="526.8" font-family="Liberation Sans, sans-serif" font-size="32" textLength="235.9" lengthAdjust="spacingAndGlyphs" fill="#161616" stroke="#161616" stroke-width="0.45">Mini Wood Saw</text>
<text x="56.4" y="610.2" font-family="Liberation Sans, sans-serif" font-size="32" textLength="113.6" lengthAdjust="spacingAndGlyphs" fill="#161616" stroke="#161616" stroke-width="0.45">Wrench</text>
<text x="54.6" y="902.4" font-family="Liberation Sans, sans-serif" font-size="32" textLength="124.4" lengthAdjust="spacingAndGlyphs" fill="#161616" stroke="#161616" stroke-width="0.45">Nail File</text>
<text x="262" y="902.4" font-family="Liberation Sans, sans-serif" font-size="32" textLength="210.6" lengthAdjust="spacingAndGlyphs" fill="#161616" stroke="#161616" stroke-width="0.45">Bottle Opener</text>
<text x="865" y="526" font-family="Liberation Sans, sans-serif" font-size="32" textLength="117" lengthAdjust="spacingAndGlyphs" fill="#161616" stroke="#161616" stroke-width="0.45">Hatchet</text>
<line x1="613" y1="124" x2="613" y2="210" stroke="#1a1a1a" stroke-width="2.2"/>
<line x1="807.6" y1="164.6" x2="807.6" y2="263" stroke="#1a1a1a" stroke-width="2.2"/>
<line x1="572.7" y1="321.8" x2="721" y2="321.8" stroke="#1a1a1a" stroke-width="2.2"/>
<line x1="376" y1="406.7" x2="376" y2="502" stroke="#1a1a1a" stroke-width="2.2"/>
<line x1="283.3" y1="465.5" x2="283.3" y2="528" stroke="#1a1a1a" stroke-width="2.2"/>
<line x1="222.6" y1="541" x2="222.6" y2="588" stroke="#1a1a1a" stroke-width="2.2"/>
<line x1="138.6" y1="619.4" x2="138.6" y2="663" stroke="#1a1a1a" stroke-width="2.2"/>
<line x1="156.3" y1="795" x2="156.3" y2="860" stroke="#1a1a1a" stroke-width="2.2"/>
<line x1="283.8" y1="718" x2="283.8" y2="860" stroke="#1a1a1a" stroke-width="2.2"/>
<line x1="924.6" y1="388" x2="924.6" y2="491" stroke="#1a1a1a" stroke-width="2.2"/>
<circle cx="612.6" cy="210.6" r="10.2" fill="#ff5a0c"/>
<circle cx="807" cy="263.8" r="10.2" fill="#ff5a0c"/>
<circle cx="721.3" cy="322.5" r="10.2" fill="#ff5a0c"/>
<circle cx="376.7" cy="502" r="10.2" fill="#ff5a0c"/>
<circle cx="283" cy="529" r="10.2" fill="#ff5a0c"/>
<circle cx="222.2" cy="588.8" r="10.2" fill="#ff5a0c"/>
<circle cx="138.7" cy="663" r="10.2" fill="#ff5a0c"/>
<circle cx="157.5" cy="795" r="10.2" fill="#ff5a0c"/>
<circle cx="283.4" cy="718.8" r="10.2" fill="#ff5a0c"/>
<circle cx="925" cy="388" r="10.2" fill="#ff5a0c"/>
</svg></body></html>
